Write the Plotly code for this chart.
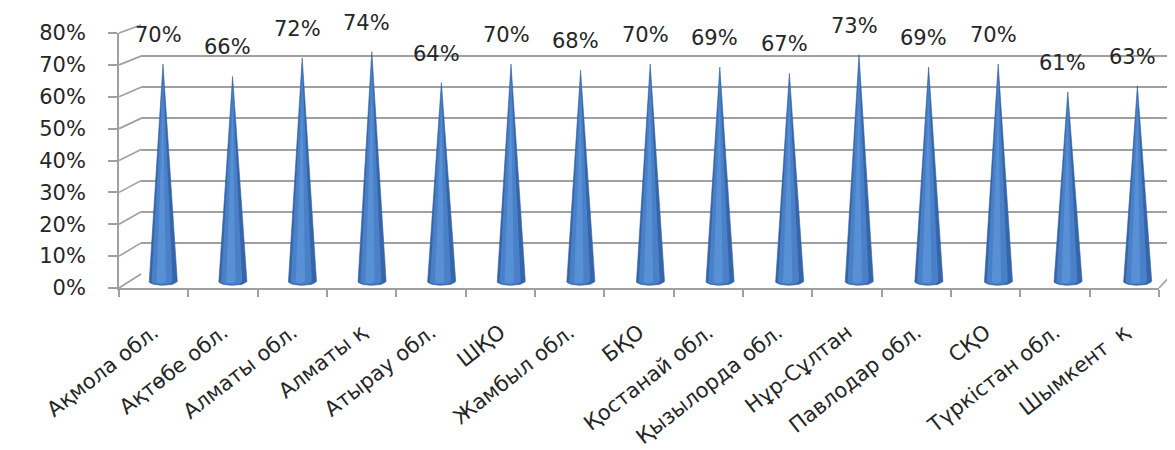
import numpy as np
import plotly.graph_objects as go

categories = ["Ақмола обл.", "Ақтөбе обл.", "Алматы обл.", "Алматы қ", "Атырау обл.", "ШҚО",
              "Жамбыл обл.", "БҚО", "Қостанай обл.", "Қызылорда обл.", "Нұр-Сұлтан",
              "Павлодар обл.", "СҚО", "Түркістан обл.", "Шымкент  қ"]
values = [0.70, 0.66, 0.72, 0.74, 0.64, 0.70, 0.68, 0.70, 0.69, 0.67, 0.73, 0.69, 0.70, 0.61, 0.63]
y_ticks = [0, 0.1, 0.2, 0.3, 0.4, 0.5, 0.6, 0.7, 0.8]

W, H = 1175, 450
OFF = 8  # page body margin
FONT = "DejaVu Sans"
GRID = "#a0a0a0"
TXT = "#262626"

def px_x(s):
    return (s - OFF) / W

def px_y(s):
    return (H - (s - OFF)) / H

def xdom(a, b):
    return [px_x(a), px_x(b)]

def ydom(bottom, top):
    return [px_y(bottom), px_y(top)]

n = len(categories)
centers = np.arange(n) + 0.5

# screen pixel geometry: front plane (labels), back wall (grid), cone plane (mid depth)
FX0, FX1, FY0, FY1 = 119, 1159, 288, 33
BX0, BX1, BY0, BY1 = 141, 1172, 274, 25
CX0, CX1 = 128.2, 1172.2
CY0, CY1 = 281, 33  # pixel for value 0 and 0.8
c_scale = (CY0 - CY1) / 0.8
c_lo = -0.035
c_pix_lo = CY0 - c_lo * c_scale

fig = go.Figure()

half_w = 0.205
ell = 0.014
theta = np.linspace(np.pi, 2 * np.pi, 25)

def cone_poly(xc, v, hw, shift=0.0, ee=ell):
    xs = [xc + shift, xc - hw]
    ys = [v, 0]
    xs += list(xc + hw * np.cos(theta))
    ys += list(ee * np.sin(theta))
    xs += [xc + hw, xc + shift]
    ys += [0, v]
    return xs, ys

bx, by, hx, hy, lx, ly = [], [], [], [], [], []
for xc, v in zip(centers, values):
    xs, ys = cone_poly(xc, v, half_w)
    bx += xs + [None]; by += ys + [None]
    xs, ys = cone_poly(xc - 0.015, v * 0.97, half_w * 0.75, shift=0.015, ee=ell * 0.85)
    hx += xs + [None]; hy += ys + [None]
    xs, ys = cone_poly(xc - 0.03, v * 0.85, half_w * 0.35, shift=0.03, ee=ell * 0.5)
    lx += xs + [None]; ly += ys + [None]

fig.add_trace(go.Scatter(x=bx, y=by, mode="lines", fill="toself", fillcolor="#3565aa",
                         line=dict(width=0.6, color="#325f9f"), hoverinfo="skip",
                         xaxis="x3", yaxis="y3", showlegend=False))
fig.add_trace(go.Scatter(x=hx, y=hy, mode="lines", fill="toself", fillcolor="#4a80c8",
                         line=dict(width=0), hoverinfo="skip",
                         xaxis="x3", yaxis="y3", showlegend=False))
fig.add_trace(go.Scatter(x=lx, y=ly, mode="lines", fill="toself", fillcolor="#5890d6",
                         line=dict(width=0), hoverinfo="skip",
                         xaxis="x3", yaxis="y3", showlegend=False))

# value labels
for xc, v in zip(centers, values):
    fig.add_annotation(x=xc, y=v, xref="x3", yref="y3", text=f"{round(v*100)}%",
                       showarrow=False, yshift=29, xshift=-5,
                       font=dict(family=FONT, size=21, color=TXT))

# dummy traces so the front / back axes render
fig.add_trace(go.Scatter(x=[None], y=[None], xaxis="x", yaxis="y", showlegend=False))
fig.add_trace(go.Scatter(x=[None], y=[None], xaxis="x2", yaxis="y2", showlegend=False))

# left wall diagonals and right floor edge
def fy(v):
    return px_y(FY0 - v / 0.8 * (FY0 - FY1))

def by_(v):
    return px_y(BY0 - v / 0.8 * (BY0 - BY1))

for v in y_ticks:
    fig.add_shape(type="line", xref="paper", yref="paper",
                  x0=px_x(FX0), y0=fy(v), x1=px_x(BX0), y1=by_(v),
                  line=dict(color=GRID, width=1.7))
fig.add_shape(type="line", xref="paper", yref="paper",
              x0=px_x(FX1), y0=fy(0), x1=px_x(BX1), y1=by_(0),
              line=dict(color=GRID, width=1.7))

fig.update_layout(
    width=W, height=H,
    margin=dict(l=0, r=0, t=0, b=0, autoexpand=False),
    paper_bgcolor="white", plot_bgcolor="rgba(0,0,0,0)",
    showlegend=False,
    xaxis=dict(domain=xdom(FX0, FX1), range=[0, n], anchor="y", automargin=False,
               tickvals=list(centers), ticktext=categories, tickangle=-38,
               ticks="", showgrid=False, zeroline=False, ticklabelstandoff=22,
               showline=True, linecolor=GRID, linewidth=1.7,
               minor=dict(tickvals=list(range(n + 1)), ticks="outside", ticklen=7,
                          tickcolor=GRID, tickwidth=1.7, showgrid=False),
               tickfont=dict(family=FONT, size=21, color=TXT)),
    yaxis=dict(domain=ydom(FY0, FY1), range=[0, 0.8], anchor="x", automargin=False,
               tickvals=y_ticks, tickformat=".0%", ticks="outside", ticklen=9,
               tickcolor=GRID, tickwidth=1.7, showgrid=False, zeroline=False,
               showline=True, linecolor=GRID, linewidth=1.7, ticklabelstandoff=18,
               tickfont=dict(family=FONT, size=21, color=TXT)),
    xaxis2=dict(domain=xdom(BX0, BX1), range=[0, n], anchor="y2", visible=False,
                showgrid=False, automargin=False),
    yaxis2=dict(domain=ydom(BY0, BY1), range=[0, 0.8], anchor="x2", automargin=False,
                tickvals=y_ticks, showgrid=True, gridcolor=GRID, gridwidth=1.7,
                showticklabels=False, ticks="", zeroline=False, showline=False),
    xaxis3=dict(domain=xdom(CX0, CX1), range=[0, n], anchor="y3", visible=False,
                automargin=False),
    yaxis3=dict(domain=ydom(c_pix_lo, CY1), range=[c_lo, 0.8], anchor="x3", visible=False,
                automargin=False),
)

fig.write_html("out.html")
